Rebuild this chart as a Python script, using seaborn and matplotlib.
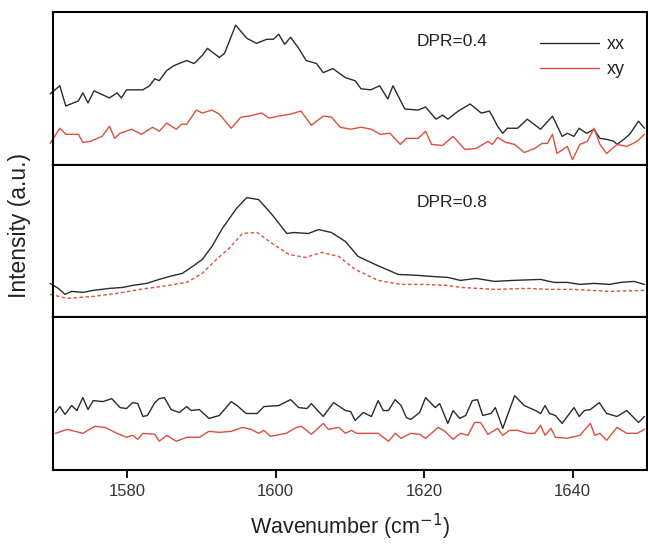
import numpy as np
import pandas as pd
import matplotlib
matplotlib.use("Agg")
import matplotlib.pyplot as plt
import seaborn as sns

# DPR=0.4, xx
wn_04_xx = [1569.6, 1570.9, 1571.7, 1573.4, 1574.0, 1574.7, 1575.5, 1577.6, 1578.6, 1579.2,
            1579.9, 1582.1, 1583.0, 1583.7, 1584.3, 1585.3, 1586.3, 1588.0, 1589.0, 1590.1,
            1590.8, 1592.4, 1593.1, 1594.6, 1596.1, 1597.4, 1598.8, 1599.7, 1600.4, 1601.2,
            1602.0, 1603.1, 1604.1, 1605.5, 1606.4, 1607.7, 1609.4, 1610.7, 1611.5, 1612.8,
            1614.0, 1615.1, 1615.8, 1617.4, 1619.2, 1620.2, 1621.6, 1622.5, 1623.2, 1624.6,
            1626.2, 1627.7, 1628.8, 1629.2, 1629.9, 1630.6, 1631.2, 1632.6, 1633.9, 1635.7,
            1637.3, 1638.6, 1639.3, 1640.2, 1640.9, 1641.9, 1642.9, 1643.7, 1644.6, 1645.6,
            1646.0, 1646.9, 1647.7, 1648.9, 1649.7]
int_04_xx = [70, 78, 58, 63, 71, 61, 73, 66, 71, 66,
             74, 74, 78, 85, 83, 93, 98, 103, 100, 108,
             115, 106, 110, 138, 125, 120, 124, 124, 129, 119,
             126, 115, 103, 100, 91, 95, 86, 83, 75, 74,
             78, 65, 78, 55, 54, 57, 45, 49, 45, 53,
             60, 51, 53, 48, 38, 31, 36, 36, 45, 35,
             48, 28, 31, 28, 36, 31, 35, 26, 25, 23,
             20, 25, 30, 43, 36]

# DPR=0.4, xy
wn_04_xy = [1569.6, 1570.9, 1571.7, 1573.4, 1574.0, 1575.0, 1576.6, 1577.6, 1578.3, 1579.0,
            1580.6, 1581.9, 1583.4, 1584.3, 1585.3, 1586.6, 1587.3, 1588.0, 1589.3, 1590.1,
            1591.4, 1592.4, 1594.0, 1595.3, 1596.4, 1598.1, 1599.1, 1600.4, 1602.0, 1603.4,
            1604.8, 1606.4, 1607.5, 1608.7, 1610.1, 1611.5, 1612.9, 1614.1, 1615.4, 1616.8,
            1617.6, 1619.2, 1620.2, 1621.0, 1622.5, 1623.9, 1625.5, 1627.0, 1628.6, 1629.2,
            1629.9, 1631.0, 1632.2, 1633.5, 1634.9, 1635.9, 1636.6, 1637.3, 1637.9, 1639.3,
            1640.0, 1641.0, 1642.0, 1642.9, 1643.7, 1644.6, 1646.0, 1647.3, 1648.7, 1649.7]
int_04_xy = [21, 36, 30, 30, 22, 23, 28, 38, 26, 31,
             35, 30, 37, 33, 41, 35, 40, 40, 54, 51,
             54, 50, 36, 47, 48, 51, 46, 48, 50, 53,
             39, 48, 47, 37, 35, 37, 35, 30, 31, 20,
             26, 26, 33, 20, 19, 28, 15, 16, 23, 20,
             27, 22, 20, 12, 16, 21, 21, 30, 11, 18,
             5, 20, 23, 36, 20, 11, 20, 18, 23, 30]

# DPR=0.8, xx
wn_08_xx = [1569.6, 1570.7, 1571.6, 1572.5, 1574.0, 1575.4, 1577.6, 1579.4, 1580.7, 1582.6,
            1584.3, 1585.7, 1587.4, 1588.8, 1590.1, 1591.4, 1592.8, 1594.7, 1596.1, 1597.7,
            1599.5, 1601.5, 1602.4, 1604.4, 1605.8, 1607.5, 1609.4, 1611.1, 1613.4, 1616.5,
            1619.2, 1621.0, 1623.2, 1624.9, 1627.0, 1629.5, 1632.0, 1635.7, 1637.5, 1639.3,
            1641.0, 1642.9, 1645.0, 1646.5, 1648.3, 1649.7]
int_08_xx = [34, 29, 23, 26, 25, 27, 29, 30, 32, 34,
             38, 41, 44, 51, 58, 71, 89, 109, 120, 118,
             103, 84, 85, 84, 88, 85, 76, 61, 53, 43,
             42, 41, 40, 37, 39, 36, 37, 38, 35, 35,
             33, 34, 33, 35, 36, 33]

# DPR=0.8, xy
wn_08_xy = [1569.6, 1571.9, 1575.4, 1578.6, 1581.7, 1584.7, 1588.0, 1590.1, 1592.0, 1593.7,
            1595.5, 1597.5, 1599.5, 1601.8, 1604.0, 1606.2, 1608.5, 1610.7, 1613.8, 1616.9,
            1620.0, 1623.2, 1624.9, 1629.5, 1633.9, 1637.0, 1640.2, 1645.0, 1649.7]
int_08_xy = [23, 19, 21, 24, 28, 31, 35, 44, 58, 69,
             84, 85, 74, 63, 60, 65, 61, 48, 37, 33,
             33, 32, 30, 28, 29, 28, 28, 26, 27]

# third sample, xx
wn_3_xx = [1570.3, 1570.9, 1571.6, 1572.5, 1573.2, 1574.0, 1574.7, 1575.4, 1576.7, 1577.9,
           1579.0, 1579.9, 1580.7, 1581.4, 1582.1, 1582.7, 1583.7, 1584.3, 1585.0, 1585.9,
           1587.0, 1588.0, 1588.6, 1589.7, 1591.0, 1592.4, 1594.0, 1594.8, 1596.0, 1597.5,
           1598.4, 1600.4, 1602.0, 1603.1, 1604.2, 1604.8, 1606.4, 1607.8, 1609.4, 1610.1,
           1610.7, 1611.8, 1612.9, 1613.8, 1614.5, 1615.2, 1616.1, 1616.9, 1617.6, 1618.2,
           1619.4, 1620.2, 1621.5, 1622.1, 1623.2, 1623.9, 1624.8, 1625.6, 1626.5, 1627.2,
           1627.9, 1629.0, 1629.6, 1630.6, 1632.2, 1633.5, 1635.0, 1635.7, 1636.3, 1636.9,
           1637.7, 1638.6, 1640.2, 1640.9, 1641.6, 1642.4, 1643.6, 1644.6, 1646.0, 1647.3,
           1648.9, 1649.7]
int_3_xx = [58, 64, 56, 65, 60, 73, 61, 70, 69, 72,
            63, 62, 68, 67, 54, 55, 68, 72, 73, 61,
            58, 64, 60, 61, 52, 55, 69, 65, 57, 57,
            64, 65, 71, 63, 62, 67, 54, 68, 60, 59,
            50, 58, 54, 70, 60, 60, 71, 65, 53, 51,
            58, 73, 63, 67, 47, 60, 52, 55, 70, 71,
            55, 57, 63, 42, 75, 65, 60, 57, 65, 57,
            55, 47, 63, 54, 60, 61, 68, 57, 54, 60,
            48, 54]

# third sample, xy
wn_3_xy = [1570.3, 1571.9, 1574.0, 1575.6, 1577.0, 1578.6, 1579.9, 1580.7, 1581.4, 1582.1,
           1583.7, 1584.3, 1585.3, 1586.6, 1588.0, 1589.7, 1591.0, 1592.4, 1594.0, 1595.5,
           1596.7, 1597.7, 1598.4, 1599.3, 1601.4, 1602.8, 1603.5, 1604.8, 1606.4, 1607.1,
           1608.5, 1609.4, 1610.2, 1610.9, 1613.8, 1615.2, 1616.1, 1616.9, 1618.2, 1619.4,
           1620.2, 1621.9, 1622.8, 1623.9, 1624.9, 1625.9, 1626.8, 1627.6, 1628.6, 1629.9,
           1630.6, 1631.5, 1632.6, 1633.9, 1634.9, 1635.7, 1636.3, 1637.1, 1637.7, 1639.3,
           1641.0, 1642.4, 1643.0, 1643.7, 1644.6, 1646.0, 1647.3, 1648.7, 1649.7]
int_3_xy = [37, 41, 37, 44, 43, 37, 33, 35, 31, 37,
            36, 29, 35, 29, 33, 33, 39, 38, 39, 43,
            41, 37, 40, 34, 37, 43, 44, 36, 47, 41,
            43, 37, 40, 37, 37, 29, 37, 32, 37, 36,
            32, 43, 39, 31, 37, 35, 48, 48, 36, 42,
            35, 40, 40, 37, 37, 45, 35, 42, 33, 32,
            35, 47, 35, 37, 30, 43, 37, 37, 41]

panel_labels = ["DPR=0.4", "DPR=0.8", ""]
panel_ylim = [(0, 151), (0, 153), (0, 154)]
xticks = [1580, 1600, 1620, 1640]

black = "#2b2b2b"
red = "#d9503f"

sns.set_theme(style="white")
plt.rcParams["font.family"] = ["Liberation Sans", "DejaVu Sans"]

fig, axes = plt.subplots(3, 1, figsize=(6.48, 5.44), dpi=100, sharex=True)
fig.subplots_adjust(left=0.082, right=0.998, top=0.978, bottom=0.136, hspace=0)

series = [
    (wn_04_xx, int_04_xx, wn_04_xy, int_04_xy, "-"),
    (wn_08_xx, int_08_xx, wn_08_xy, int_08_xy, "--"),
    (wn_3_xx, int_3_xx, wn_3_xy, int_3_xy, "-"),
]

for i, (ax, (wx, ix, wy, iy, ls)) in enumerate(zip(axes, series)):
    df_xx = pd.DataFrame({"wn": wx, "I": ix})
    df_xy = pd.DataFrame({"wn": wy, "I": iy})
    sns.lineplot(data=df_xx, x="wn", y="I", ax=ax, color=black, lw=1.0,
                 estimator=None, label="xx" if i == 0 else None)
    sns.lineplot(data=df_xy, x="wn", y="I", ax=ax, color=red, lw=1.0,
                 estimator=None, label="xy" if i == 0 else None)
    if ls == "--":
        ax.lines[-1].set_dashes((2.5, 1.8))
    for ln in ax.lines:
        ln.set_clip_on(False)
    ax.set_ylim(*panel_ylim[i])
    ax.set_xlim(1570, 1650)
    ax.set_yticks([])
    ax.set_ylabel("")
    ax.set_xlabel("")
    for s in ax.spines.values():
        s.set_color("black")
        s.set_linewidth(1.5)
    if panel_labels[i]:
        ax.text(1619.0, 0.78 if i == 0 else 0.72, panel_labels[i],
                transform=ax.get_xaxis_transform(), fontsize=12.5, color="#222222")

axes[0].legend(loc="upper right", bbox_to_anchor=(0.99, 0.95), frameon=False,
               fontsize=13, handlelength=3.3, handletextpad=0.4, labelspacing=0.45)

axes[2].set_xticks(xticks)
axes[2].tick_params(axis="x", direction="out", length=6, width=1.3, bottom=True,
                    labelsize=12, colors="black", labelcolor="#333333", pad=4)
axes[0].tick_params(axis="x", bottom=False)
axes[1].tick_params(axis="x", bottom=False)

axes[2].set_xlabel("Wavenumber (cm$^{-1}$)", fontsize=15.5, color="#222222", labelpad=9)
fig.text(0.03, 0.585, "Intensity (a.u.)", rotation=90, va="center", ha="center",
         fontsize=16.5, color="#222222")

fig.savefig("out.png", dpi=100)
